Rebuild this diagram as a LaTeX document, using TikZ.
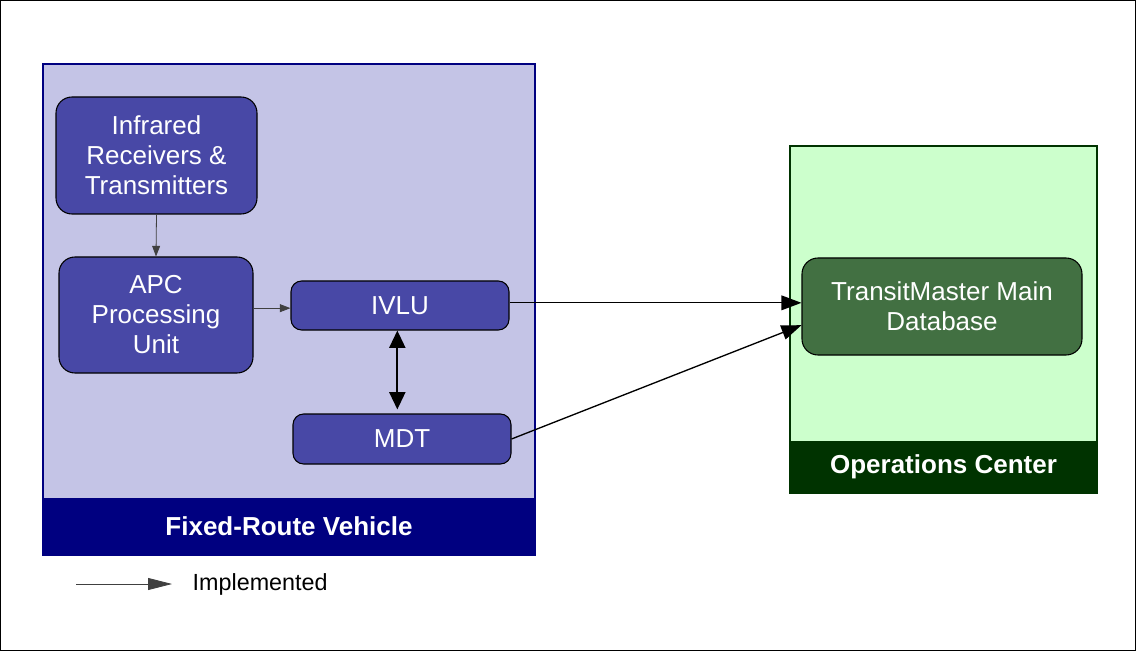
\documentclass[tikz,border=0pt]{standalone}
\usepackage{fontspec}
\setmainfont{Liberation Sans}
\usetikzlibrary{arrows.meta,positioning,calc}
\definecolor{vehfill}{RGB}{196,196,230}
\definecolor{vehnavy}{RGB}{0,0,128}
\definecolor{unitblue}{RGB}{72,72,166}
\definecolor{opsfill}{RGB}{204,255,204}
\definecolor{opsdark}{RGB}{0,51,0}
\definecolor{dbgreen}{RGB}{66,112,66}
\definecolor{linkgrey}{RGB}{64,64,64}
\tikzset{
  unit/.style={draw=black,thick,fill=unitblue,rounded corners=12pt,text=white,
    align=center,inner sep=0pt,font=\fontsize{19.5pt}{22.5pt}\selectfont},
  dbunit/.style={unit,fill=dbgreen},
  band/.style={inner sep=0pt,text=white,font=\fontsize{19.5pt}{22.5pt}\selectfont\bfseries},
  link/.style={-{Triangle[length=8pt,width=6pt]},linkgrey,semithick},
  feed/.style={-{Triangle[length=15pt,width=11pt]},black,line width=1pt}
}
\begin{document}
\begin{tikzpicture}[x=0.75pt,y=0.75pt]
\useasboundingbox (0,0) rectangle (1136,651);
\draw[black] (0.5,0.5) rectangle (1135.5,650.5);
% vehicle
\draw[vehnavy,thick,fill=vehfill] (43,96) rectangle (535,587);
\node[band,fill=vehnavy,minimum width=492*0.75pt,minimum height=57*0.75pt]
  (vehhead) at (289,124.5) {Fixed-Route Vehicle};
% operations center
\draw[opsdark,thick,fill=opsfill] (790,158) rectangle (1097,505);
\node[band,fill=opsdark,minimum width=307*0.75pt,minimum height=52*0.75pt]
  (opshead) at (943.5,184) {Operations Center};
% units
\node[unit,minimum width=201*0.75pt,minimum height=117*0.75pt]
  (ir) at (156.5,495.5) {Infrared\\Receivers \&\\Transmitters};
\node[unit,minimum width=194*0.75pt,minimum height=116*0.75pt]
  (apc) at (156,336) {APC\\Processing\\Unit};
\node[unit,rounded corners=8pt,minimum width=218*0.75pt,minimum height=49*0.75pt]
  (ivlu) at (400,345.5) {IVLU};
\node[unit,rounded corners=8pt,minimum width=218*0.75pt,minimum height=50*0.75pt]
  (mdt) at (402,212) {MDT};
\node[dbunit,minimum width=280*0.75pt,minimum height=97*0.75pt]
  (tm) at (942,344.5) {TransitMaster Main\\Database};
% links
\draw[link] (ir.south) -- (apc.north);
\draw[link] ([yshift=-2pt]apc.east |- ivlu.west) -- ([yshift=-2pt]ivlu.west);
\draw[{Triangle[length=13pt,width=12pt]}-{Triangle[length=13pt,width=12pt]},black,line width=1.5pt]
  ([xshift=-2pt]ivlu.south) -- ([xshift=-2pt,yshift=3pt]ivlu.south |- mdt.north);
\draw[feed] ([yshift=2pt]ivlu.east) -- ([yshift=2pt]ivlu.east -| tm.west);
\draw[feed] (mdt.east) -- ([yshift=-14pt]tm.west);
% legend
\coordinate (legstart) at (76,67);
\node[anchor=west,font=\fontsize{17.5pt}{20pt}\selectfont] (legtext) at (188,67) {Implemented};
\draw[-{Triangle[length=18pt,width=9pt]},linkgrey,semithick] (legstart) -- ([xshift=-12pt]legtext.west);
\end{tikzpicture}
\end{document}
